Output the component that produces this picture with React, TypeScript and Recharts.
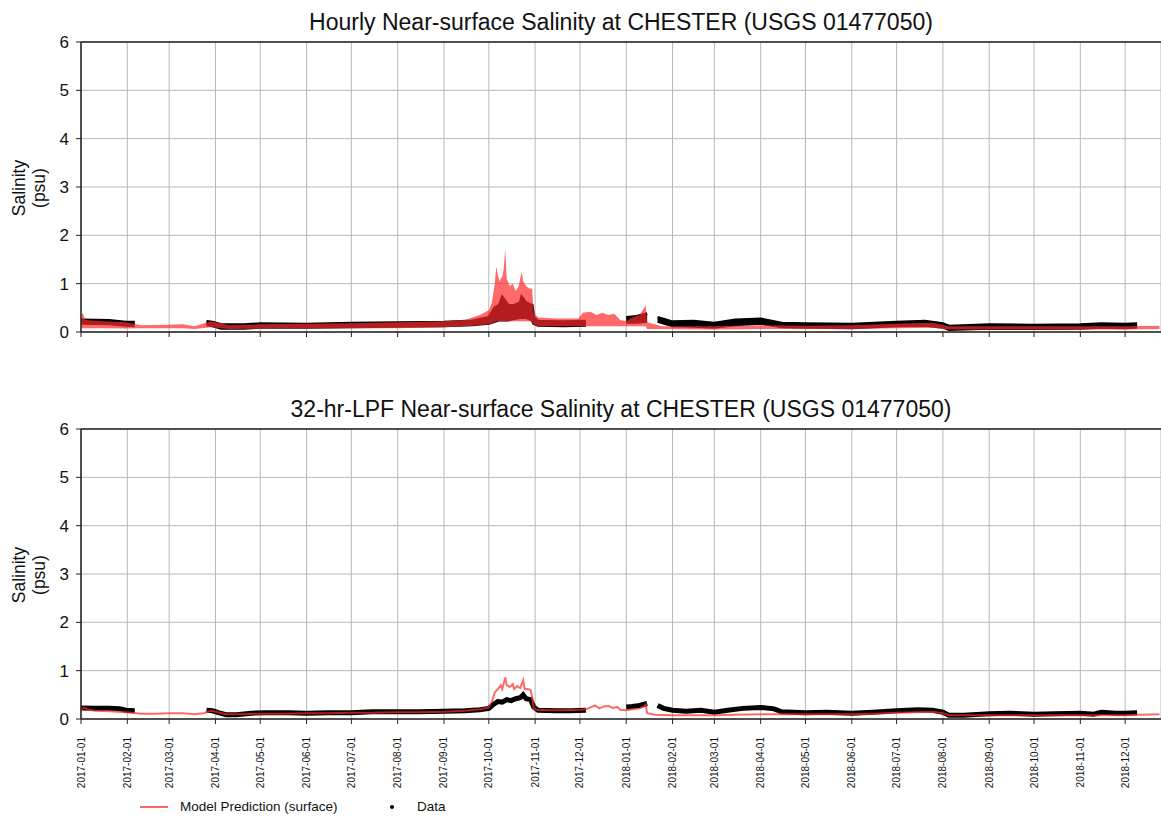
import React from 'react';
import { ComposedChart, Area, Line, XAxis, YAxis, CartesianGrid, ReferenceLine } from 'recharts';

// month ticks shown on both panels
const tickLabels = [
  '2017-01-01', '2017-02-01', '2017-03-01', '2017-04-01', '2017-05-01', '2017-06-01',
  '2017-07-01', '2017-08-01', '2017-09-01', '2017-10-01', '2017-11-01', '2017-12-01',
  '2018-01-01', '2018-02-01', '2018-03-01', '2018-04-01', '2018-05-01', '2018-06-01',
  '2018-07-01', '2018-08-01', '2018-09-01', '2018-10-01', '2018-11-01', '2018-12-01',
];
const yTicks = [0, 1, 2, 3, 4, 5, 6];

// hourly model band [date, low, high]
const modelHourly: [string, number, number][] = [
  ['2017-01-01', 0.08, 0.3], ['2017-01-02', 0.08, 0.4], ['2017-01-04', 0.08, 0.25], ['2017-01-15', 0.08, 0.22],
  ['2017-01-31', 0.07, 0.2], ['2017-02-10', 0.08, 0.14], ['2017-03-01', 0.08, 0.15], ['2017-03-10', 0.08, 0.16],
  ['2017-03-18', 0.06, 0.12], ['2017-03-29', 0.1, 0.22], ['2017-04-10', 0.06, 0.14], ['2017-05-01', 0.07, 0.16],
  ['2017-06-01', 0.07, 0.17], ['2017-07-01', 0.08, 0.18], ['2017-08-01', 0.08, 0.2], ['2017-09-01', 0.1, 0.22],
  ['2017-09-15', 0.12, 0.25], ['2017-09-25', 0.14, 0.35], ['2017-10-01', 0.16, 0.45], ['2017-10-03', 0.18, 0.6],
  ['2017-10-05', 0.2, 1.0], ['2017-10-06', 0.22, 1.35], ['2017-10-08', 0.22, 1.05], ['2017-10-10', 0.22, 1.15],
  ['2017-10-11', 0.22, 1.3], ['2017-10-12', 0.22, 1.72], ['2017-10-13', 0.22, 1.1], ['2017-10-15', 0.22, 0.95],
  ['2017-10-17', 0.22, 1.0], ['2017-10-19', 0.22, 0.85], ['2017-10-21', 0.22, 0.95], ['2017-10-23', 0.22, 1.25],
  ['2017-10-24', 0.22, 1.05], ['2017-10-26', 0.22, 0.95], ['2017-10-28', 0.22, 0.9], ['2017-10-30', 0.2, 0.9],
  ['2017-10-31', 0.15, 0.4], ['2017-11-03', 0.12, 0.3], ['2017-11-15', 0.12, 0.28], ['2017-11-30', 0.12, 0.28],
  ['2017-12-03', 0.12, 0.4], ['2017-12-08', 0.12, 0.42], ['2017-12-12', 0.12, 0.35], ['2017-12-16', 0.12, 0.4],
  ['2017-12-20', 0.12, 0.35], ['2017-12-24', 0.12, 0.38], ['2017-12-28', 0.12, 0.25], ['2018-01-01', 0.12, 0.22],
  ['2018-01-05', 0.12, 0.3], ['2018-01-10', 0.12, 0.35], ['2018-01-14', 0.12, 0.55], ['2018-01-15', 0.06, 0.2],
  ['2018-01-25', 0.06, 0.12], ['2018-03-01', 0.05, 0.12], ['2018-04-01', 0.06, 0.14], ['2018-05-01', 0.06, 0.13],
  ['2018-06-01', 0.06, 0.14], ['2018-07-01', 0.08, 0.17], ['2018-07-25', 0.09, 0.19], ['2018-08-05', 0.05, 0.12],
  ['2018-09-01', 0.05, 0.12], ['2018-10-01', 0.05, 0.12], ['2018-11-01', 0.05, 0.12], ['2018-12-01', 0.05, 0.12],
  ['2018-12-24', 0.06, 0.13],
];

// hourly observations band [date, low, high], nulls = no data
const dataHourly: [string, number | null, number | null][] = [
  ['2017-01-01', 0.18, 0.25], ['2017-01-20', 0.17, 0.24], ['2017-01-31', 0.14, 0.2], ['2017-02-06', 0.13, 0.2],
  ['2017-02-07', null, null], ['2017-03-26', 0.15, 0.22], ['2017-03-30', 0.13, 0.2], ['2017-04-05', 0.08, 0.15],
  ['2017-04-20', 0.08, 0.15], ['2017-05-01', 0.1, 0.17], ['2017-06-01', 0.1, 0.16], ['2017-07-01', 0.11, 0.18],
  ['2017-08-01', 0.12, 0.19], ['2017-09-01', 0.13, 0.2], ['2017-09-20', 0.15, 0.23], ['2017-10-01', 0.18, 0.3],
  ['2017-10-05', 0.22, 0.5], ['2017-10-08', 0.25, 0.55], ['2017-10-10', 0.25, 0.72], ['2017-10-14', 0.25, 0.55],
  ['2017-10-18', 0.28, 0.55], ['2017-10-22', 0.3, 0.6], ['2017-10-23', 0.3, 0.72], ['2017-10-26', 0.3, 0.6],
  ['2017-10-30', 0.25, 0.55], ['2017-10-31', 0.18, 0.3], ['2017-11-03', 0.14, 0.22], ['2017-11-20', 0.13, 0.21],
  ['2017-12-05', 0.14, 0.22], ['2017-12-06', null, null], ['2018-01-01', 0.2, 0.3], ['2018-01-08', 0.2, 0.32],
  ['2018-01-15', 0.22, 0.38], ['2018-01-16', null, null], ['2018-01-22', 0.22, 0.3], ['2018-02-01', 0.13, 0.21],
  ['2018-02-15', 0.12, 0.22], ['2018-03-01', 0.1, 0.18], ['2018-03-15', 0.15, 0.25], ['2018-04-01', 0.18, 0.27],
  ['2018-04-15', 0.11, 0.18], ['2018-05-01', 0.1, 0.17], ['2018-06-01', 0.09, 0.16], ['2018-07-01', 0.13, 0.2],
  ['2018-07-20', 0.14, 0.22], ['2018-08-01', 0.1, 0.17], ['2018-08-05', 0.05, 0.12], ['2018-09-01', 0.08, 0.15],
  ['2018-10-01', 0.07, 0.14], ['2018-11-01', 0.08, 0.15], ['2018-11-15', 0.1, 0.17], ['2018-12-01', 0.09, 0.16],
  ['2018-12-09', 0.1, 0.17],
];

// 32-hr low-pass model
const modelLpf: [string, number][] = [
  ['2017-01-01', 0.19], ['2017-01-03', 0.24], ['2017-01-05', 0.2], ['2017-01-10', 0.17], ['2017-01-20', 0.16],
  ['2017-01-31', 0.14], ['2017-02-10', 0.11], ['2017-02-20', 0.11], ['2017-03-01', 0.12], ['2017-03-10', 0.12],
  ['2017-03-18', 0.1], ['2017-03-24', 0.12], ['2017-03-29', 0.17], ['2017-04-03', 0.14], ['2017-04-08', 0.1],
  ['2017-04-20', 0.1], ['2017-05-01', 0.11], ['2017-05-15', 0.11], ['2017-06-01', 0.12], ['2017-06-15', 0.12],
  ['2017-07-01', 0.13], ['2017-07-15', 0.13], ['2017-08-01', 0.14], ['2017-08-15', 0.14], ['2017-09-01', 0.15],
  ['2017-09-15', 0.17], ['2017-09-25', 0.2], ['2017-10-01', 0.24], ['2017-10-03', 0.35], ['2017-10-05', 0.55],
  ['2017-10-07', 0.62], ['2017-10-09', 0.7], ['2017-10-10', 0.62], ['2017-10-12', 0.86], ['2017-10-13', 0.7],
  ['2017-10-15', 0.66], ['2017-10-17', 0.72], ['2017-10-18', 0.62], ['2017-10-20', 0.68], ['2017-10-22', 0.64],
  ['2017-10-24', 0.8], ['2017-10-25', 0.62], ['2017-10-27', 0.62], ['2017-10-29', 0.6], ['2017-10-30', 0.45],
  ['2017-10-31', 0.22], ['2017-11-02', 0.19], ['2017-11-10', 0.18], ['2017-11-20', 0.18], ['2017-12-01', 0.19],
  ['2017-12-05', 0.2], ['2017-12-08', 0.24], ['2017-12-11', 0.28], ['2017-12-14', 0.22], ['2017-12-17', 0.26],
  ['2017-12-20', 0.27], ['2017-12-23', 0.23], ['2017-12-26', 0.25], ['2017-12-28', 0.19], ['2018-01-01', 0.18],
  ['2018-01-05', 0.2], ['2018-01-10', 0.22], ['2018-01-13', 0.26], ['2018-01-14', 0.3], ['2018-01-15', 0.12],
  ['2018-01-20', 0.09], ['2018-02-01', 0.08], ['2018-02-15', 0.08], ['2018-03-01', 0.08], ['2018-03-15', 0.09],
  ['2018-04-01', 0.1], ['2018-04-15', 0.1], ['2018-05-01', 0.1], ['2018-05-15', 0.1], ['2018-06-01', 0.1],
  ['2018-06-15', 0.11], ['2018-07-01', 0.13], ['2018-07-15', 0.14], ['2018-07-25', 0.15], ['2018-08-01', 0.12],
  ['2018-08-05', 0.08], ['2018-08-15', 0.08], ['2018-09-01', 0.08], ['2018-09-15', 0.08], ['2018-10-01', 0.08],
  ['2018-10-15', 0.08], ['2018-11-01', 0.08], ['2018-11-15', 0.08], ['2018-12-01', 0.08], ['2018-12-10', 0.09],
  ['2018-12-24', 0.1],
];

// 32-hr low-pass observations
const dataLpf: [string, number | null][] = [
  ['2017-01-01', 0.23], ['2017-01-10', 0.22], ['2017-01-20', 0.22], ['2017-01-27', 0.21], ['2017-01-31', 0.18],
  ['2017-02-06', 0.17], ['2017-02-07', null], ['2017-03-26', 0.18], ['2017-03-30', 0.17], ['2017-04-03', 0.13],
  ['2017-04-08', 0.09], ['2017-04-15', 0.09], ['2017-04-25', 0.12], ['2017-05-05', 0.13], ['2017-05-20', 0.13],
  ['2017-06-01', 0.12], ['2017-06-15', 0.13], ['2017-07-01', 0.13], ['2017-07-15', 0.15], ['2017-08-01', 0.15],
  ['2017-08-15', 0.15], ['2017-09-01', 0.16], ['2017-09-15', 0.17], ['2017-09-25', 0.19], ['2017-10-01', 0.22],
  ['2017-10-04', 0.3], ['2017-10-07', 0.36], ['2017-10-10', 0.35], ['2017-10-13', 0.4], ['2017-10-16', 0.38],
  ['2017-10-19', 0.42], ['2017-10-22', 0.44], ['2017-10-24', 0.5], ['2017-10-26', 0.42], ['2017-10-29', 0.4],
  ['2017-10-31', 0.25], ['2017-11-03', 0.18], ['2017-11-15', 0.17], ['2017-11-25', 0.17], ['2017-12-05', 0.18],
  ['2017-12-06', null], ['2018-01-01', 0.25], ['2018-01-05', 0.26], ['2018-01-10', 0.28], ['2018-01-15', 0.32],
  ['2018-01-16', null], ['2018-01-22', 0.28], ['2018-01-26', 0.22], ['2018-02-01', 0.18], ['2018-02-10', 0.16],
  ['2018-02-20', 0.18], ['2018-03-01', 0.14], ['2018-03-10', 0.18], ['2018-03-20', 0.22], ['2018-04-01', 0.24],
  ['2018-04-10', 0.21], ['2018-04-15', 0.15], ['2018-05-01', 0.13], ['2018-05-15', 0.14], ['2018-06-01', 0.12],
  ['2018-06-15', 0.14], ['2018-07-01', 0.17], ['2018-07-15', 0.19], ['2018-07-25', 0.18], ['2018-08-01', 0.14],
  ['2018-08-05', 0.08], ['2018-08-15', 0.08], ['2018-09-01', 0.11], ['2018-09-15', 0.12], ['2018-10-01', 0.1],
  ['2018-10-15', 0.11], ['2018-11-01', 0.12], ['2018-11-10', 0.1], ['2018-11-15', 0.14], ['2018-11-25', 0.12],
  ['2018-12-01', 0.12], ['2018-12-09', 0.13],
];

const FONT = '"Liberation Sans", Arial, Helvetica, sans-serif';
const RED = '#ff2a2a';

const toDay = (s: string) =>
  (Date.UTC(+s.slice(0, 4), +s.slice(5, 7) - 1, +s.slice(8, 10)) - Date.UTC(2017, 0, 1)) / 86400000;

const tickDays = tickLabels.map(toDay);
const xDomain = [0, 723];

const bandRows = (arr: [string, number | null, number | null][]) =>
  arr.map(([t, lo, hi]) => ({ d: toDay(t), r: lo == null ? [null, null] : [lo, hi] }));
const lineRows = (arr: [string, number | null][]) => arr.map(([t, v]) => ({ d: toDay(t), v }));

const YLabel = (props: any) => {
  const { viewBox } = props;
  const cx = 28;
  const cy = viewBox.y + viewBox.height / 2 + 1;
  return (
    <text
      x={cx}
      y={cy}
      transform={`rotate(-90, ${cx}, ${cy})`}
      textAnchor="middle"
      fontSize={17.5}
      fill="#111"
      fontFamily={FONT}
    >
      <tspan x={cx} dy="-0.2em">Salinity</tspan>
      <tspan x={cx} dy="1.15em">(psu)</tspan>
    </text>
  );
};

const DateTick = (props: any) => {
  const { x, y, index } = props;
  const ty = y + 11;
  return (
    <text
      x={x}
      y={ty}
      transform={`rotate(-90, ${x}, ${ty})`}
      textAnchor="end"
      dominantBaseline="central"
      fontSize={10}
      fill="#111"
      fontFamily={FONT}
    >
      {tickLabels[index]}
    </text>
  );
};

const Panel = ({ title, top, bottomLabels, children }: any) => {
  const height = bottomLabels ? 412 : 342;
  return (
    <div style={{ position: 'absolute', left: 0, top, width: 1161, height }}>
      <div
        style={{
          position: 'absolute', left: 81, width: 1080, top: 9, textAlign: 'center',
          fontSize: 23, lineHeight: '26px', color: '#111', fontFamily: FONT,
        }}
      >
        {title}
      </div>
      <ComposedChart width={1161} height={height} margin={{ top: 42, right: 0, left: 0, bottom: 0 }}>
        <CartesianGrid stroke="#b8b8b8" strokeWidth={1} />
        <XAxis
          type="number"
          dataKey="d"
          domain={xDomain}
          ticks={tickDays}
          interval={0}
          allowDataOverflow
          height={bottomLabels ? 80 : 10}
          axisLine={{ stroke: '#222', strokeWidth: 1.5 }}
          tickLine={{ stroke: '#222' }}
          tickSize={5}
          tick={bottomLabels ? <DateTick /> : () => <g />}
        />
        <YAxis
          type="number"
          domain={[0, 6]}
          ticks={yTicks}
          allowDataOverflow
          width={81}
          axisLine={{ stroke: '#222', strokeWidth: 1.5 }}
          tickLine={{ stroke: '#222' }}
          tickSize={5}
          tickMargin={7}
          tick={{ fontSize: 17, fill: '#111', fontFamily: FONT }}
          label={<YLabel />}
        />
        <ReferenceLine y={6} stroke="#222" strokeWidth={1.5} />
        {children}
      </ComposedChart>
    </div>
  );
};

export default function App() {
  return (
    <div style={{ position: 'relative', width: 1161, height: 817, background: '#fff', fontFamily: FONT }}>
      <style>{'body{margin:0;background:#fff}'}</style>
      <Panel title="Hourly Near-surface Salinity at CHESTER (USGS 01477050)" top={0}>
        <Area
          data={bandRows(dataHourly)}
          dataKey="r"
          type="linear"
          stroke="#000"
          strokeWidth={3}
          fill="#000"
          fillOpacity={1}
          isAnimationActive={false}
        />
        <Area
          data={bandRows(modelHourly)}
          dataKey="r"
          type="linear"
          stroke="none"
          fill={RED}
          fillOpacity={0.7}
          isAnimationActive={false}
        />
      </Panel>
      <Panel title="32-hr-LPF Near-surface Salinity at CHESTER (USGS 01477050)" top={387} bottomLabels>
        <Line
          data={lineRows(dataLpf)}
          dataKey="v"
          type="linear"
          stroke="#000"
          strokeWidth={5}
          dot={false}
          isAnimationActive={false}
        />
        <Line
          data={lineRows(modelLpf)}
          dataKey="v"
          type="linear"
          stroke={RED}
          strokeOpacity={0.7}
          strokeWidth={2}
          dot={false}
          isAnimationActive={false}
        />
      </Panel>
      <div style={{ position: 'absolute', left: 140, top: 806, width: 28, height: 2, background: '#ff6464' }} />
      <div style={{ position: 'absolute', left: 180, top: 798, fontSize: 13.5, lineHeight: '18px', color: '#111' }}>
        Model Prediction (surface)
      </div>
      <div style={{ position: 'absolute', left: 390, top: 805, width: 4, height: 4, borderRadius: 2, background: '#000' }} />
      <div style={{ position: 'absolute', left: 417, top: 798, fontSize: 13.5, lineHeight: '18px', color: '#111' }}>Data</div>
    </div>
  );
}
